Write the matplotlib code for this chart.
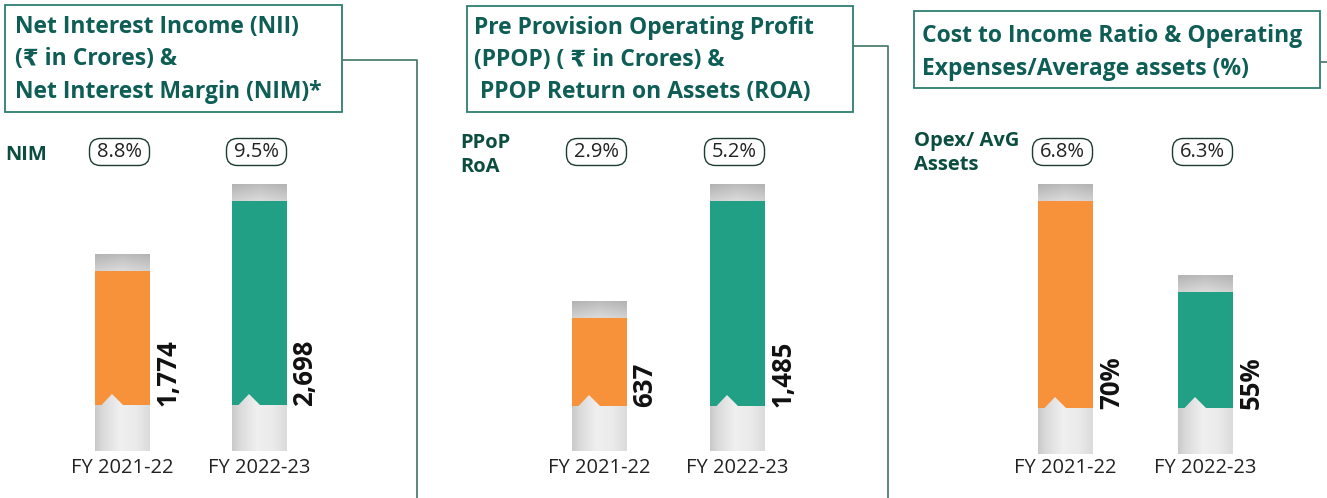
import matplotlib
matplotlib.use("Agg")
import matplotlib.pyplot as plt
import numpy as np
from matplotlib.patches import Polygon, FancyBboxPatch

W, H = 1327, 498

# ---- data ----
years = ["FY 2021-22", "FY 2022-23"]
nii = [1774, 2698]
nim = ["8.8%", "9.5%"]
ppop = [637, 1485]
ppop_roa = ["2.9%", "5.2%"]
cost_income = [70, 55]
opex_assets = ["6.8%", "6.3%"]

titles = [
    ["Net Interest Income (NII)", "(₹ in Crores) &", "Net Interest Margin (NIM)*"],
    ["Pre Provision Operating Profit", "(PPOP) ( ₹ in Crores) &", " PPOP Return on Assets (ROA)"],
    ["Cost to Income Ratio & Operating", "Expenses/Average assets (%)"],
]
side_labels = ["NIM", "PPoP\nRoA", "Opex/ AvG\nAssets"]

# ---- style ----
ORANGE = "#F7923A"
TEAL = "#22A085"
TITLE_C = "#0E5E56"
LABEL_C = "#0B4D3F"
BOX_EC = "#2E7D71"
LINE_C = "#4F7F6E"
FONT = ["Open Sans", "DejaVu Sans"]
plt.rcParams["font.family"] = FONT

fig = plt.figure(figsize=(W / 100, H / 100), dpi=100)
fig.patch.set_facecolor("white")

# overlay axes in pixel coords for boxes / connectors / side labels
ov = fig.add_axes([0, 0, 1, 1])
ov.set_xlim(0, W)
ov.set_ylim(H, 0)
ov.axis("off")

boxes = [(5, 5, 342, 112), (467, 6, 853, 112), (914, 11, 1320, 88)]
title_x = [15, 474, 922]
title_base = [[33, 65, 98], [34, 66, 98], [42, 75]]
for (x0, y0, x1, y1), tx, ys, lines in zip(boxes, title_x, title_base, titles):
    ov.add_patch(plt.Rectangle((x0, y0), x1 - x0, y1 - y0, fill=False,
                               ec=BOX_EC, lw=1.3))
    for yb, line in zip(ys, lines):
        ov.text(tx, yb, line, color=TITLE_C, fontsize=16.5, fontweight="bold",
                va="baseline", ha="left", family=FONT)

# connectors
ov.plot([342, 417, 417], [60, 60, H], color=LINE_C, lw=1.3)
ov.plot([853, 888, 888], [46, 46, H], color=LINE_C, lw=1.3)
ov.plot([1320, 1327], [62, 62], color=LINE_C, lw=1.3)

side_xy = [(5, 155), (460, 155), (914, 153)]
for (sx, sy), s in zip(side_xy, side_labels):
    ov.text(sx, sy, s, color=LABEL_C, fontsize=14.5, fontweight="bold",
            ha="left", va="center", linespacing=1.22)

# ---- bar panels ----
panels = [
    dict(vals=nii, pills=nim, fmt="{:,}", floor=0, c0=122.5, gap=137, base=405, ped=451),
    dict(vals=ppop, pills=ppop_roa, fmt="{:,}", floor=0, c0=599.5, gap=138, base=406, ped=451),
    dict(vals=cost_income, pills=opex_assets, fmt="{}%", floor=36, c0=1065.5, gap=140, base=408, ped=454),
]
TOP_PX = 201      # pixel row reached by the tallest bar
BAR_PX = 55
CAP_PX = 17
PILL_W, PILL_H, PILL_Y = 60, 27, 152


def hgrad(n=64):
    stops = [0.0, 0.12, 0.45, 0.75, 1.0]
    vals = [0.79, 0.85, 0.94, 0.92, 0.86]
    return np.interp(np.linspace(0, 1, n), stops, vals)


for p in panels:
    vals = p["vals"]
    k = (p["base"] - TOP_PX) / (max(vals) - p["floor"])   # px per unit
    gap = p["gap"]
    left_px = p["c0"] - 0.5 * gap
    ax = fig.add_axes([left_px / W, 0, 2 * gap / W, 1])
    ylo = p["floor"] - (H - p["base"]) / k
    yhi = p["floor"] + p["base"] / k
    w = BAR_PX / gap
    px = 1.0 / gap  # data units per horizontal pixel
    colors = [ORANGE, TEAL]
    x = np.arange(len(vals))
    ax.bar(x, np.array(vals) - p["floor"], bottom=p["floor"], width=w,
           color=colors, zorder=2)

    for i, v in enumerate(vals):
        xl, xr = i - w / 2, i + w / 2
        # pedestal with notch
        ped_lo = p["floor"] - (p["ped"] - p["base"]) / k
        poly = [(xl, ped_lo), (xr, ped_lo), (xr, p["floor"]),
                (xl + 28 * px, p["floor"]), (xl + 17 * px, p["floor"] + 11 / k),
                (xl + 6.5 * px, p["floor"]), (xl, p["floor"])]
        clip = Polygon(poly, closed=True, fc="none", ec="none")
        ax.add_patch(clip)
        g = hgrad()
        img = np.dstack([np.tile(g, (8, 1))] * 3)
        im = ax.imshow(img, extent=[xl, xr, ped_lo, p["floor"] + 12 / k],
                       aspect="auto", interpolation="bilinear", zorder=3)
        im.set_clip_path(clip)
        # grey cap
        vg = np.linspace(0.74, 0.86, 16)[:, None]
        hg = 1.0 - 0.05 * np.abs(np.linspace(-1, 1, 32))[None, :]
        capimg = np.dstack([vg * hg] * 3)
        ax.imshow(capimg, extent=[xl, xr, v, v + CAP_PX / k], origin="upper",
                  aspect="auto", interpolation="bilinear", zorder=3)
        # value label
        ax.text(i + 0.33, p["floor"] - 1 / k, p["fmt"].format(v), rotation=90,
                ha="center", va="bottom", fontsize=18.5, fontweight="bold",
                color="#111111", zorder=4)
        # category label
        ax.text(i, p["floor"] - (468 - p["base"]) / k, years[i], ha="center",
                va="center", fontsize=14.5, color="#222222")

        # pill (overlay pixel coords)
        cx = p["c0"] + i * gap - 3
        ov.add_patch(FancyBboxPatch((cx - PILL_W / 2 + 8, PILL_Y - PILL_H / 2 + 8),
                                    PILL_W - 16, PILL_H - 16,
                                    boxstyle="round,pad=8,rounding_size=11",
                                    fc="white", ec="#1d3b32", lw=1.0))
        ov.text(cx, PILL_Y, p["pills"][i], ha="center", va="center",
                fontsize=14.5, color="#222222")

    ax.set_xlim(-0.5, 1.5)
    ax.set_ylim(ylo, yhi)
    ax.axis("off")

fig.savefig("out.png", dpi=100, facecolor="white")
